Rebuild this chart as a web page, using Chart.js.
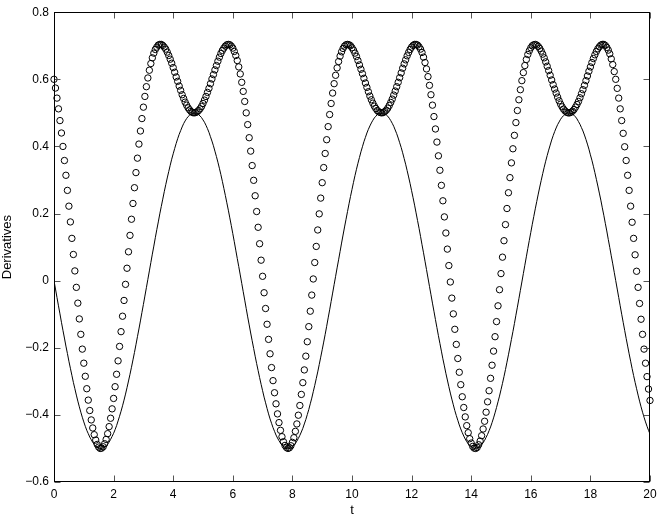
<!DOCTYPE html>
<html>
<head>
<meta charset="utf-8">
<script src="https://cdn.jsdelivr.net/npm/chart.js@4.4.1/dist/chart.umd.min.js"></script>
<style>
  html, body { margin: 0; padding: 0; background: #fff; }
  #wrap { width: 663px; height: 520px; position: relative; }
</style>
</head>
<body>
<div id="wrap"><canvas id="myChart"></canvas></div>
<script>
// sample times, step 0.05
const tValues = [
  0,0.05,0.1,0.15,0.2,0.25,0.3,0.35,0.4,0.45,0.5,0.55,0.6,0.65,0.7,0.75,0.8,0.85,0.9,0.95,
  1,1.05,1.1,1.15,1.2,1.25,1.3,1.35,1.4,1.45,1.5,1.55,1.6,1.65,1.7,1.75,1.8,1.85,1.9,1.95,
  2,2.05,2.1,2.15,2.2,2.25,2.3,2.35,2.4,2.45,2.5,2.55,2.6,2.65,2.7,2.75,2.8,2.85,2.9,2.95,
  3,3.05,3.1,3.15,3.2,3.25,3.3,3.35,3.4,3.45,3.5,3.55,3.6,3.65,3.7,3.75,3.8,3.85,3.9,3.95,
  4,4.05,4.1,4.15,4.2,4.25,4.3,4.35,4.4,4.45,4.5,4.55,4.6,4.65,4.7,4.75,4.8,4.85,4.9,4.95,
  5,5.05,5.1,5.15,5.2,5.25,5.3,5.35,5.4,5.45,5.5,5.55,5.6,5.65,5.7,5.75,5.8,5.85,5.9,5.95,
  6,6.05,6.1,6.15,6.2,6.25,6.3,6.35,6.4,6.45,6.5,6.55,6.6,6.65,6.7,6.75,6.8,6.85,6.9,6.95,
  7,7.05,7.1,7.15,7.2,7.25,7.3,7.35,7.4,7.45,7.5,7.55,7.6,7.65,7.7,7.75,7.8,7.85,7.9,7.95,
  8,8.05,8.1,8.15,8.2,8.25,8.3,8.35,8.4,8.45,8.5,8.55,8.6,8.65,8.7,8.75,8.8,8.85,8.9,8.95,
  9,9.05,9.1,9.15,9.2,9.25,9.3,9.35,9.4,9.45,9.5,9.55,9.6,9.65,9.7,9.75,9.8,9.85,9.9,9.95,
  10,10.05,10.1,10.15,10.2,10.25,10.3,10.35,10.4,10.45,10.5,10.55,10.6,10.65,10.7,10.75,10.8,10.85,10.9,10.95,
  11,11.05,11.1,11.15,11.2,11.25,11.3,11.35,11.4,11.45,11.5,11.55,11.6,11.65,11.7,11.75,11.8,11.85,11.9,11.95,
  12,12.05,12.1,12.15,12.2,12.25,12.3,12.35,12.4,12.45,12.5,12.55,12.6,12.65,12.7,12.75,12.8,12.85,12.9,12.95,
  13,13.05,13.1,13.15,13.2,13.25,13.3,13.35,13.4,13.45,13.5,13.55,13.6,13.65,13.7,13.75,13.8,13.85,13.9,13.95,
  14,14.05,14.1,14.15,14.2,14.25,14.3,14.35,14.4,14.45,14.5,14.55,14.6,14.65,14.7,14.75,14.8,14.85,14.9,14.95,
  15,15.05,15.1,15.15,15.2,15.25,15.3,15.35,15.4,15.45,15.5,15.55,15.6,15.65,15.7,15.75,15.8,15.85,15.9,15.95,
  16,16.05,16.1,16.15,16.2,16.25,16.3,16.35,16.4,16.45,16.5,16.55,16.6,16.65,16.7,16.75,16.8,16.85,16.9,16.95,
  17,17.05,17.1,17.15,17.2,17.25,17.3,17.35,17.4,17.45,17.5,17.55,17.6,17.65,17.7,17.75,17.8,17.85,17.9,17.95,
  18,18.05,18.1,18.15,18.2,18.25,18.3,18.35,18.4,18.45,18.5,18.55,18.6,18.65,18.7,18.75,18.8,18.85,18.9,18.95,
  19,19.05,19.1,19.15,19.2,19.25,19.3,19.35,19.4,19.45,19.5,19.55,19.6,19.65,19.7,19.75,19.8,19.85,19.9,19.95,
  20
];

// solid curve
const lineValues = [
  0,-0.025,-0.050,-0.075,-0.099,-0.124,-0.148,-0.171,-0.195,-0.217,-0.240,-0.261,-0.282,-0.303,-0.322,-0.341,-0.359,-0.376,-0.392,-0.407,
  -0.421,-0.434,-0.446,-0.456,-0.466,-0.474,-0.482,-0.488,-0.493,-0.496,-0.499,-0.500,-0.500,-0.498,-0.496,-0.492,-0.487,-0.481,-0.473,-0.464,
  -0.455,-0.444,-0.432,-0.418,-0.404,-0.389,-0.373,-0.356,-0.338,-0.319,-0.299,-0.279,-0.258,-0.236,-0.214,-0.191,-0.167,-0.144,-0.120,-0.095,
  -0.071,-0.046,-0.021,0.004,0.029,0.054,0.079,0.103,0.128,0.152,0.175,0.199,0.221,0.243,0.265,0.286,0.306,0.325,0.344,0.362,
  0.378,0.394,0.409,0.423,0.436,0.447,0.458,0.468,0.476,0.483,0.489,0.493,0.497,0.499,0.500,0.500,0.498,0.495,0.491,0.486,
  0.479,0.472,0.463,0.453,0.442,0.429,0.416,0.402,0.386,0.370,0.353,0.335,0.316,0.296,0.275,0.254,0.232,0.210,0.187,0.164,
  0.140,0.116,0.091,0.066,0.042,0.017,-0.008,-0.033,-0.058,-0.083,-0.108,-0.132,-0.156,-0.179,-0.202,-0.225,-0.247,-0.268,-0.289,-0.309,
  -0.328,-0.347,-0.364,-0.381,-0.397,-0.412,-0.425,-0.438,-0.449,-0.460,-0.469,-0.477,-0.484,-0.490,-0.494,-0.497,-0.499,-0.500,-0.499,-0.498,
  -0.495,-0.490,-0.485,-0.478,-0.470,-0.461,-0.451,-0.440,-0.427,-0.414,-0.399,-0.384,-0.367,-0.350,-0.331,-0.312,-0.292,-0.272,-0.250,-0.228,
  -0.206,-0.183,-0.160,-0.136,-0.111,-0.087,-0.062,-0.037,-0.012,0.013,0.038,0.062,0.087,0.112,0.136,0.160,0.183,0.206,0.229,0.251,
  0.272,0.293,0.313,0.332,0.350,0.367,0.384,0.399,0.414,0.427,0.440,0.451,0.461,0.470,0.478,0.485,0.490,0.495,0.498,0.499,
  0.500,0.499,0.497,0.494,0.490,0.484,0.477,0.469,0.460,0.449,0.438,0.425,0.411,0.397,0.381,0.364,0.347,0.328,0.309,0.289,
  0.268,0.247,0.225,0.202,0.179,0.156,0.132,0.107,0.083,0.058,0.033,0.008,-0.017,-0.042,-0.067,-0.091,-0.116,-0.140,-0.164,-0.187,
  -0.210,-0.233,-0.254,-0.276,-0.296,-0.316,-0.335,-0.353,-0.370,-0.387,-0.402,-0.416,-0.430,-0.442,-0.453,-0.463,-0.472,-0.480,-0.486,-0.491,
  -0.495,-0.498,-0.500,-0.500,-0.499,-0.497,-0.493,-0.489,-0.483,-0.476,-0.467,-0.458,-0.447,-0.436,-0.423,-0.409,-0.394,-0.378,-0.361,-0.344,
  -0.325,-0.306,-0.286,-0.265,-0.243,-0.221,-0.198,-0.175,-0.152,-0.128,-0.103,-0.079,-0.054,-0.029,-0.004,0.021,0.046,0.071,0.096,0.120,
  0.144,0.168,0.191,0.214,0.236,0.258,0.279,0.299,0.319,0.338,0.356,0.373,0.389,0.404,0.419,0.432,0.444,0.455,0.465,0.473,
  0.481,0.487,0.492,0.496,0.498,0.500,0.500,0.499,0.496,0.493,0.488,0.482,0.474,0.466,0.456,0.446,0.434,0.421,0.407,0.392,
  0.375,0.359,0.341,0.322,0.302,0.282,0.261,0.240,0.217,0.195,0.171,0.148,0.123,0.099,0.074,0.050,0.025,0.000,-0.025,-0.050,
  -0.075,-0.100,-0.124,-0.148,-0.172,-0.195,-0.218,-0.240,-0.262,-0.283,-0.303,-0.322,-0.341,-0.359,-0.376,-0.392,-0.407,-0.421,-0.434,-0.446,
  -0.457
];

// circle markers
const circleValues = [
  0.600,0.574,0.544,0.512,0.477,0.440,0.400,0.358,0.314,0.269,0.222,0.175,0.126,0.078,0.029,-0.020,-0.067,-0.114,-0.160,-0.204,
  -0.246,-0.285,-0.322,-0.356,-0.387,-0.415,-0.439,-0.459,-0.475,-0.488,-0.496,-0.500,-0.499,-0.495,-0.486,-0.473,-0.456,-0.435,-0.410,-0.382,
  -0.351,-0.316,-0.279,-0.239,-0.196,-0.152,-0.106,-0.059,-0.011,0.037,0.086,0.135,0.183,0.230,0.277,0.322,0.365,0.407,0.446,0.483,
  0.517,0.549,0.578,0.604,0.627,0.647,0.664,0.678,0.689,0.696,0.702,0.704,0.704,0.701,0.696,0.690,0.681,0.671,0.660,0.648,
  0.635,0.621,0.607,0.594,0.580,0.567,0.554,0.543,0.532,0.523,0.515,0.509,0.504,0.501,0.500,0.501,0.503,0.507,0.512,0.519,
  0.528,0.538,0.549,0.561,0.573,0.587,0.601,0.614,0.628,0.641,0.654,0.666,0.677,0.686,0.693,0.699,0.703,0.704,0.703,0.699,
  0.693,0.683,0.671,0.656,0.637,0.616,0.591,0.564,0.534,0.500,0.465,0.426,0.386,0.343,0.299,0.253,0.206,0.159,0.110,0.061,
  0.013,-0.036,-0.083,-0.130,-0.175,-0.218,-0.259,-0.298,-0.334,-0.367,-0.397,-0.423,-0.446,-0.465,-0.480,-0.491,-0.497,-0.500,-0.498,-0.492,
  -0.482,-0.468,-0.449,-0.427,-0.401,-0.372,-0.339,-0.304,-0.266,-0.225,-0.182,-0.137,-0.091,-0.043,0.005,0.054,0.102,0.151,0.199,0.246,
  0.292,0.337,0.379,0.420,0.459,0.495,0.528,0.559,0.587,0.612,0.634,0.653,0.669,0.682,0.692,0.699,0.703,0.704,0.703,0.700,
  0.694,0.687,0.678,0.668,0.656,0.643,0.630,0.617,0.603,0.589,0.576,0.563,0.550,0.539,0.529,0.520,0.513,0.507,0.503,0.501,
  0.500,0.501,0.504,0.508,0.514,0.522,0.531,0.541,0.553,0.565,0.578,0.591,0.605,0.619,0.633,0.646,0.658,0.670,0.680,0.689,
  0.696,0.701,0.704,0.704,0.702,0.697,0.690,0.680,0.666,0.650,0.631,0.608,0.582,0.554,0.523,0.489,0.452,0.413,0.372,0.329,
  0.284,0.238,0.190,0.142,0.094,0.045,-0.004,-0.052,-0.099,-0.145,-0.190,-0.232,-0.273,-0.310,-0.346,-0.378,-0.406,-0.432,-0.453,-0.471,
  -0.484,-0.494,-0.499,-0.500,-0.497,-0.489,-0.478,-0.462,-0.442,-0.419,-0.392,-0.361,-0.328,-0.291,-0.252,-0.210,-0.167,-0.122,-0.075,-0.027,
  0.021,0.070,0.119,0.167,0.215,0.262,0.307,0.351,0.393,0.433,0.471,0.507,0.539,0.569,0.596,0.620,0.641,0.659,0.674,0.685,
  0.694,0.700,0.703,0.704,0.702,0.698,0.692,0.684,0.675,0.664,0.652,0.639,0.626,0.612,0.598,0.584,0.571,0.559,0.547,0.536,
  0.526,0.518,0.511,0.506,0.502,0.500,0.500,0.502,0.505,0.510,0.517,0.525,0.534,0.545,0.557,0.569,0.582,0.596,0.610,0.624,
  0.637,0.650,0.662,0.673,0.683,0.691,0.697,0.702,0.704,0.704,0.701,0.695,0.687,0.676,0.661,0.644,0.623,0.600,0.573,0.544,
  0.512,0.477,0.439,0.399,0.358,0.314,0.269,0.222,0.174,0.126,0.077,0.028,-0.020,-0.068,-0.115,-0.160,-0.204,-0.246,-0.286,-0.323,
  -0.357
];

const xTicks = [0, 2, 4, 6, 8, 10, 12, 14, 16, 18, 20];
const yTicks = [-0.6, -0.4, -0.2, 0, 0.2, 0.4, 0.6, 0.8];

const font = "'Liberation Sans', Arial, Helvetica, sans-serif";

// box round the plot, with short inward ticks on every side
const frameTicks = {
  id: 'frameTicks',
  afterDatasetsDraw(chart) {
    const { ctx, chartArea: a, scales: { x, y } } = chart;
    const L = Math.round(a.left) + 0.5, R = Math.round(a.right) - 0.5;
    const T = Math.round(a.top) + 0.5, B = Math.round(a.bottom) - 0.5;
    ctx.save();
    ctx.lineWidth = 1;
    ctx.strokeStyle = '#555';
    ctx.beginPath();
    xTicks.forEach(v => {
      const px = Math.round(x.getPixelForValue(v)) + 0.5;
      ctx.moveTo(px, B); ctx.lineTo(px, B - 6);
      ctx.moveTo(px, T); ctx.lineTo(px, T + 6);
    });
    yTicks.forEach(v => {
      const py = Math.round(y.getPixelForValue(v)) + 0.5;
      ctx.moveTo(L, py); ctx.lineTo(L + 6, py);
      ctx.moveTo(R, py); ctx.lineTo(R - 6, py);
    });
    ctx.stroke();
    ctx.strokeStyle = '#000';
    ctx.strokeRect(L, T, R - L, B - T);
    ctx.restore();
  }
};

new Chart("myChart", {
  type: "scatter",
  data: {
    datasets: [{
      label: "curve",
      data: tValues.map((t, i) => ({ x: t, y: lineValues[i] })),
      showLine: true,
      borderColor: "#000",
      borderWidth: 1,
      pointRadius: 0,
      tension: 0
    }, {
      label: "circles",
      data: tValues.map((t, i) => ({ x: t, y: circleValues[i] })),
      showLine: false,
      pointStyle: "circle",
      pointRadius: 3.2,
      pointBorderWidth: 1,
      pointBorderColor: "#000",
      pointBackgroundColor: "rgba(0,0,0,0)",
      clip: false
    }]
  },
  options: {
    responsive: true,
    maintainAspectRatio: false,
    animation: false,
    layout: { padding: { top: 12, right: 13, left: 0, bottom: 0 } },
    plugins: {
      legend: { display: false },
      tooltip: { enabled: false }
    },
    scales: {
      x: {
        type: "linear",
        min: 0,
        max: 20,
        afterFit: s => { s.height = 38; },
        afterBuildTicks: s => { s.ticks = xTicks.map(v => ({ value: v })); },
        grid: { display: false, drawTicks: false },
        border: { display: false },
        ticks: {
          padding: 5,
          color: "#000",
          font: { family: font, size: 12 },
          maxRotation: 0,
          callback: v => String(v)
        },
        title: {
          display: true,
          text: "t",
          color: "#000",
          font: { family: font, size: 13 },
          padding: { top: 0, bottom: 2 }
        }
      },
      y: {
        min: -0.6,
        max: 0.8,
        afterFit: s => { s.width = 54; },
        afterBuildTicks: s => { s.ticks = yTicks.map(v => ({ value: v })); },
        grid: { display: false, drawTicks: false },
        border: { display: false },
        ticks: {
          padding: 5,
          color: "#000",
          font: { family: font, size: 12 },
          callback: v => (Math.round(v * 10) / 10).toString().replace("-", "\u2212")
        },
        title: {
          display: true,
          text: "Derivatives",
          color: "#000",
          font: { family: font, size: 13 },
          padding: { top: 0, bottom: 0 }
        }
      }
    }
  },
  plugins: [frameTicks]
});
</script>
</body>
</html>
